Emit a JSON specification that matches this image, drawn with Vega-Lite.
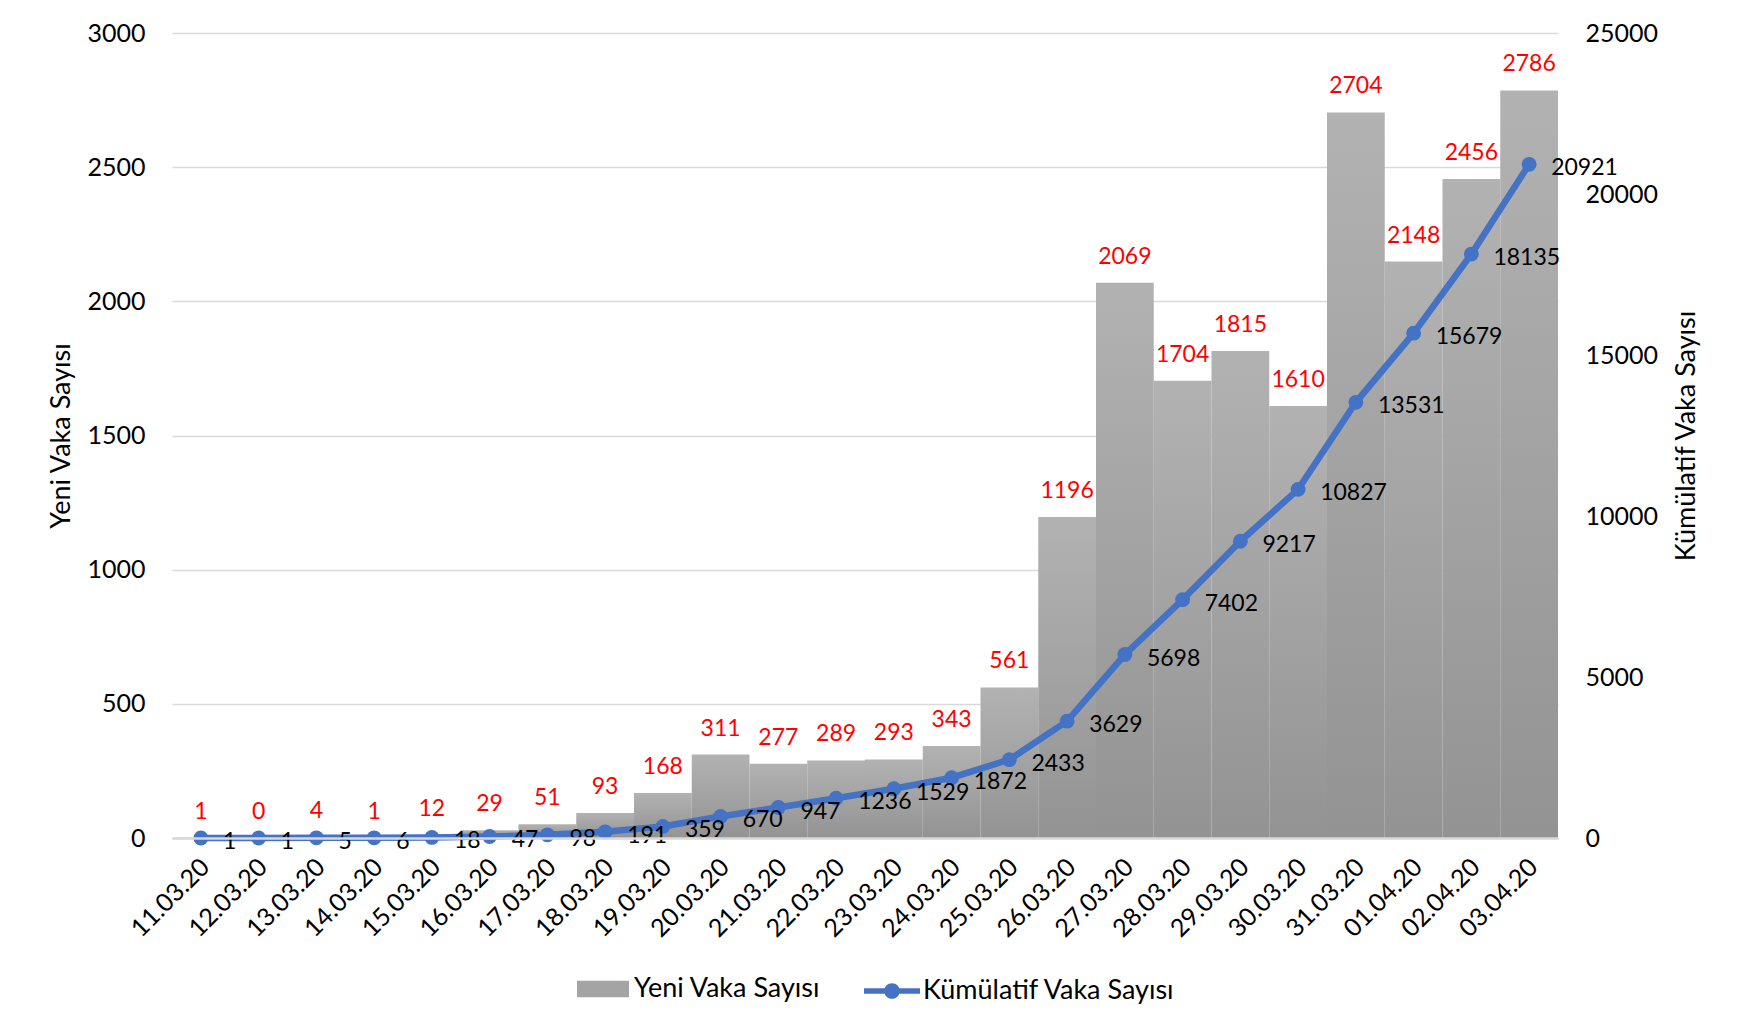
{
  "$schema": "https://vega.github.io/schema/vega-lite/v6.json",
  "width": 1386,
  "height": 805,
  "autosize": {"type": "none"},
  "padding": {"left": 172, "top": 33, "right": 183, "bottom": 190},
  "background": "white",
  "config": {
    "view": {"stroke": null},
    "font": "Lato",
    "axis": {"labelColor": "black", "titleColor": "black", "labelFont": "Lato", "titleFont": "Lato"}
  },
  "data": {
    "values": [
      {"date": "11.03.20", "yeni": 1, "kum": 1},
      {"date": "12.03.20", "yeni": 0, "kum": 1},
      {"date": "13.03.20", "yeni": 4, "kum": 5},
      {"date": "14.03.20", "yeni": 1, "kum": 6},
      {"date": "15.03.20", "yeni": 12, "kum": 18},
      {"date": "16.03.20", "yeni": 29, "kum": 47},
      {"date": "17.03.20", "yeni": 51, "kum": 98},
      {"date": "18.03.20", "yeni": 93, "kum": 191},
      {"date": "19.03.20", "yeni": 168, "kum": 359},
      {"date": "20.03.20", "yeni": 311, "kum": 670},
      {"date": "21.03.20", "yeni": 277, "kum": 947},
      {"date": "22.03.20", "yeni": 289, "kum": 1236},
      {"date": "23.03.20", "yeni": 293, "kum": 1529},
      {"date": "24.03.20", "yeni": 343, "kum": 1872},
      {"date": "25.03.20", "yeni": 561, "kum": 2433},
      {"date": "26.03.20", "yeni": 1196, "kum": 3629},
      {"date": "27.03.20", "yeni": 2069, "kum": 5698},
      {"date": "28.03.20", "yeni": 1704, "kum": 7402},
      {"date": "29.03.20", "yeni": 1815, "kum": 9217},
      {"date": "30.03.20", "yeni": 1610, "kum": 10827},
      {"date": "31.03.20", "yeni": 2704, "kum": 13531},
      {"date": "01.04.20", "yeni": 2148, "kum": 15679},
      {"date": "02.04.20", "yeni": 2456, "kum": 18135},
      {"date": "03.04.20", "yeni": 2786, "kum": 20921}
    ]
  },
  "encoding": {
    "x": {
      "field": "date",
      "type": "nominal",
      "sort": null,
      "scale": {"paddingInner": 0, "paddingOuter": 0},
      "axis": {
        "title": null,
        "labelAngle": -45,
        "labelFontSize": 25,
        "labelPadding": 16,
        "labelOffset": -4,
        "ticks": false,
        "domainColor": "#d9d9d9",
        "domainWidth": 2.5,
        "zindex": 1
      }
    }
  },
  "layer": [
    {
      "layer": [
        {
          "mark": {
            "type": "bar",
            "color": {"gradient": "linear", "x1": 0, "y1": 0, "x2": 0, "y2": 1,
                      "stops": [{"offset": 0, "color": "#b2b2b2"}, {"offset": 1, "color": "#939393"}]}
          },
          "encoding": {
            "y": {
              "field": "yeni",
              "type": "quantitative",
              "scale": {"domain": [0, 3000], "nice": false},
              "axis": {
                "title": "Yeni Vaka Sayısı",
                "titleFontSize": 27,
                "titleFontWeight": "normal",
                "titlePadding": 11,
                "labelFontSize": 25,
                "labelPadding": 27,
                "format": "d",
                "values": [0, 500, 1000, 1500, 2000, 2500, 3000],
                "ticks": false,
                "domain": false,
                "grid": true,
                "gridColor": "#d9d9d9",
                "gridWidth": 1.5
              }
            }
          }
        },
        {
          "mark": {"type": "point", "filled": true, "size": 0, "opacity": 0},
          "encoding": {
            "y": {"field": "yeni", "type": "quantitative"},
            "fill": {
              "datum": "Yeni Vaka Sayısı",
              "type": "nominal",
              "scale": {"range": ["#a4a4a4"]},
              "legend": {
                "title": null,
                "orient": "none",
                "legendX": 405,
                "legendY": 930,
                "padding": 0,
                "labelFontSize": 27,
                "labelLimit": 0,
                "labelColor": "black",
                "labelFont": "Lato",
                "labelOffset": 5,
                "symbolType": "M-1,-0.32L1,-0.32L1,0.32L-1,0.32Z",
                "symbolSize": 2704,
                "symbolOpacity": 1,
                "symbolStrokeWidth": 0
              }
            }
          }
        },
        {
          "mark": {"type": "text", "color": "#ff0000", "fontSize": 23, "baseline": "bottom", "dy": -14, "font": "Lato"},
          "encoding": {
            "y": {"field": "yeni", "type": "quantitative"},
            "text": {"field": "yeni", "type": "quantitative", "format": "d"}
          }
        }
      ]
    },
    {
      "layer": [
        {
          "mark": {"type": "line", "strokeWidth": 6.5},
          "encoding": {
            "y": {
              "field": "kum",
              "type": "quantitative",
              "scale": {"domain": [0, 25000], "nice": false},
              "axis": {
                "orient": "right",
                "title": "Kümülatif Vaka Sayısı",
                "titleFontSize": 27,
                "titleFontWeight": "normal",
                "titleAngle": 270,
                "titleBaseline": "top",
                "titlePadding": 16,
                "labelFontSize": 25,
                "labelPadding": 27,
                "format": "d",
                "values": [0, 5000, 10000, 15000, 20000, 25000],
                "ticks": false,
                "domain": false,
                "grid": false
              }
            },
            "stroke": {
              "datum": "Kümülatif Vaka Sayısı",
              "type": "nominal",
              "scale": {"range": ["#4472c4"]},
              "legend": {
                "title": null,
                "orient": "none",
                "legendX": 692,
                "legendY": 930,
                "padding": 0,
                "labelFontSize": 27,
                "labelLimit": 0,
                "labelColor": "black",
                "labelFont": "Lato",
                "labelOffset": 3,
                "symbolType": "M-1,-0.1L1,-0.1L1,0.1L-1,0.1Z M0.28,0A0.28,0.28 0 1,1 -0.28,0A0.28,0.28 0 1,1 0.28,0Z",
                "symbolSize": 3136,
                "symbolFillColor": "#4472c4",
                "symbolStrokeWidth": 0
              }
            }
          }
        },
        {
          "mark": {"type": "point", "filled": true, "size": 220, "color": "#4472c4", "opacity": 1},
          "encoding": {
            "y": {"field": "kum", "type": "quantitative"}
          }
        },
        {
          "mark": {"type": "text", "color": "black", "fontSize": 23, "align": "left", "baseline": "middle", "dx": 22, "dy": 4, "font": "Lato"},
          "encoding": {
            "y": {"field": "kum", "type": "quantitative"},
            "text": {"field": "kum", "type": "quantitative", "format": "d"}
          }
        }
      ]
    }
  ],
  "resolve": {"scale": {"y": "independent"}}
}
